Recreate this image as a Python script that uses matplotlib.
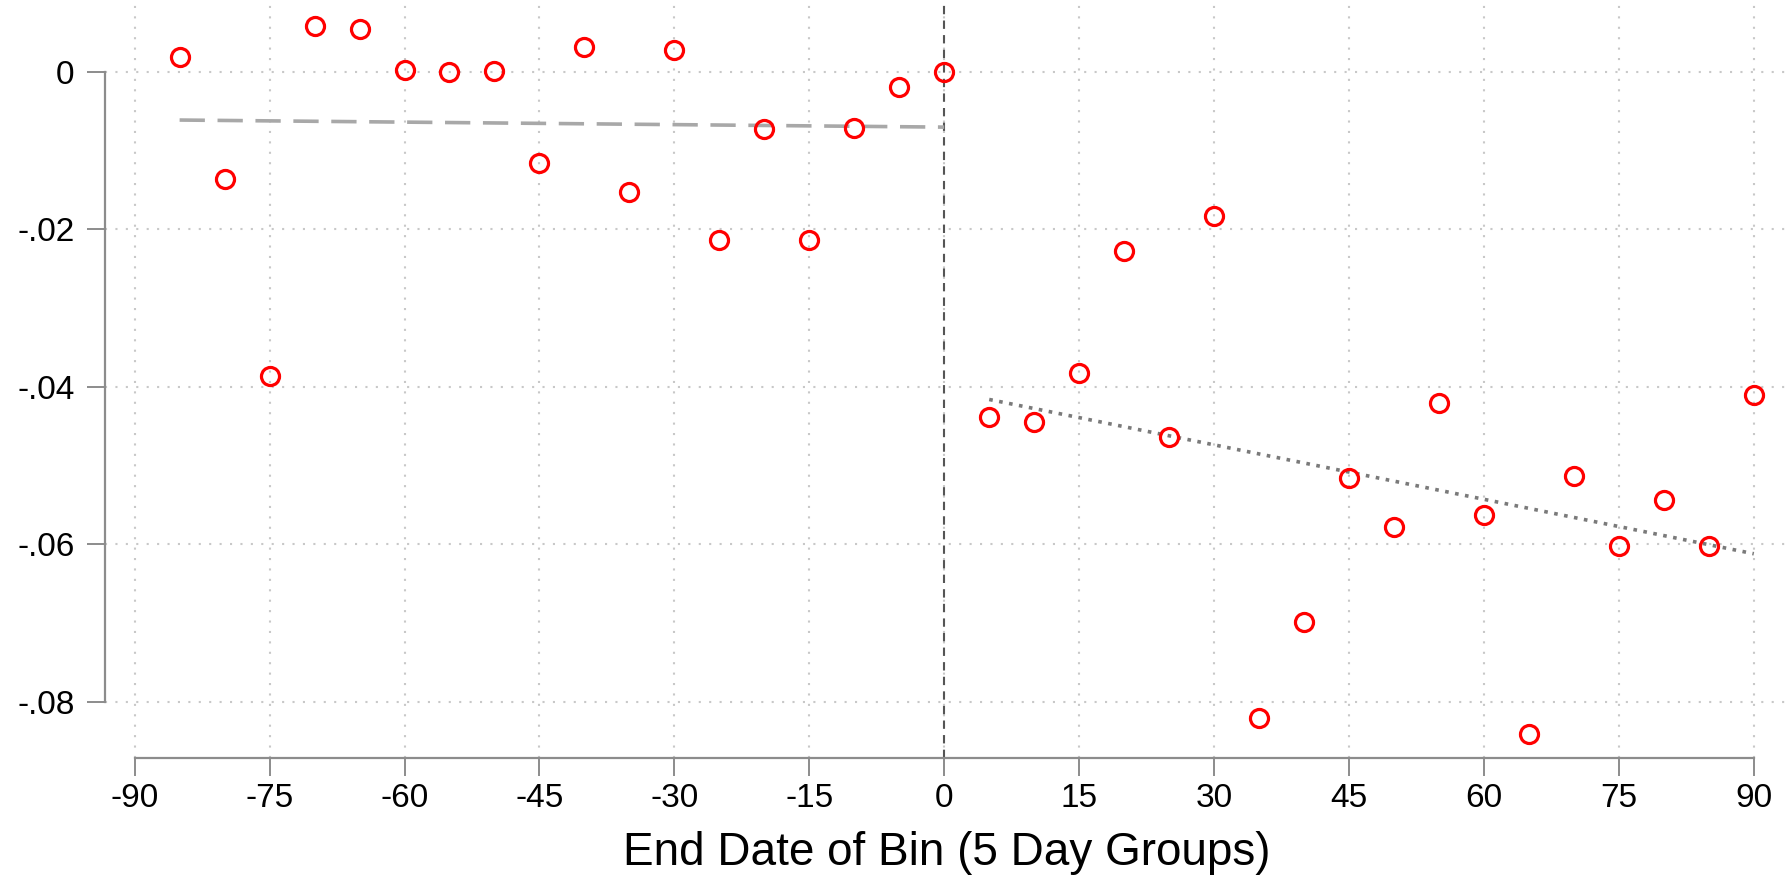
import matplotlib
matplotlib.use("Agg")
import matplotlib.pyplot as plt
import numpy as np

plt.rcParams['font.family'] = ['Liberation Sans', 'DejaVu Sans']

# bin end dates and binned outcome
bins = [-85, -80, -75, -70, -65, -60, -55, -50, -45, -40, -35, -30, -25, -20, -15, -10, -5, 0,
        5, 10, 15, 20, 25, 30, 35, 40, 45, 50, 55, 60, 65, 70, 75, 80, 85, 90]
vals = [0.0019, -0.0136, -0.0386, 0.0059, 0.0055, 0.0003, 0.0000, 0.0001, -0.0116, 0.0032,
        -0.0152, 0.0028, -0.0213, -0.0073, -0.0214, -0.0071, -0.0019, 0.0000,
        -0.0438, -0.0444, -0.0383, -0.0228, -0.0464, -0.0183, -0.0821, -0.0699, -0.0516, -0.0578,
        -0.0420, -0.0563, -0.0841, -0.0513, -0.0602, -0.0544, -0.0602, -0.0410]

# linear fits either side of the cutoff (endpoints)
fit_left_x = [-85, 0]
fit_left_y = [-0.0061, -0.0070]
fit_right_x = [5, 90]
fit_right_y = [-0.0416, -0.0612]

xticks = list(range(-90, 91, 15))
yticks = [0, -0.02, -0.04, -0.06, -0.08]
ylabels = ["0", "-.02", "-.04", "-.06", "-.08"]

fig = plt.figure(figsize=(17.88, 8.81), dpi=100)
ax = fig.add_axes([0.0587, 0.1396, 0.9413, 0.8604])

gray = "#8c8c8c"
for xt in xticks:
    ax.axvline(xt, color="#c8c8c8", lw=1.5, ls=(0, (1, 4)), zorder=0)
for yt in yticks:
    ax.axhline(yt, color="#c8c8c8", lw=1.5, ls=(0, (1, 4)), zorder=0)

ax.axvline(0, color="#555555", lw=1.5, ls=(0, (4, 3)), zorder=1)
ax.plot(fit_left_x, fit_left_y, color="#a8a8a8", lw=2.6, ls=(0, (7, 3.5)), zorder=2)
ax.plot(fit_right_x, fit_right_y, color="#7a7a7a", lw=2.6, ls=(0, (1, 1.8)), zorder=2)
ax.plot(bins, vals, ls="none", marker="o", ms=13, mfc="none", mec="red", mew=2.3, zorder=3)

ax.set_xlim(-93.3, 93.8)
ax.set_ylim(-0.08715, 0.00915)
ax.set_xticks(xticks)
ax.set_xticklabels([str(x) for x in xticks])
ax.set_yticks(yticks)
ax.set_yticklabels(ylabels)
ax.tick_params(axis="both", direction="out", length=13, width=1.4, color=gray,
               labelsize=24)
ax.tick_params(axis="x", pad=5)
ax.tick_params(axis="y", pad=9)

for s in ["top", "right"]:
    ax.spines[s].set_visible(False)
for s in ["left", "bottom"]:
    ax.spines[s].set_color(gray)
    ax.spines[s].set_linewidth(1.6)
ax.spines["left"].set_bounds(-0.08, 0)
ax.spines["bottom"].set_bounds(-90, 90)

ax.set_xlabel("End Date of Bin (5 Day Groups)", fontsize=33, labelpad=12)

fig.savefig("out.png", dpi=100)
